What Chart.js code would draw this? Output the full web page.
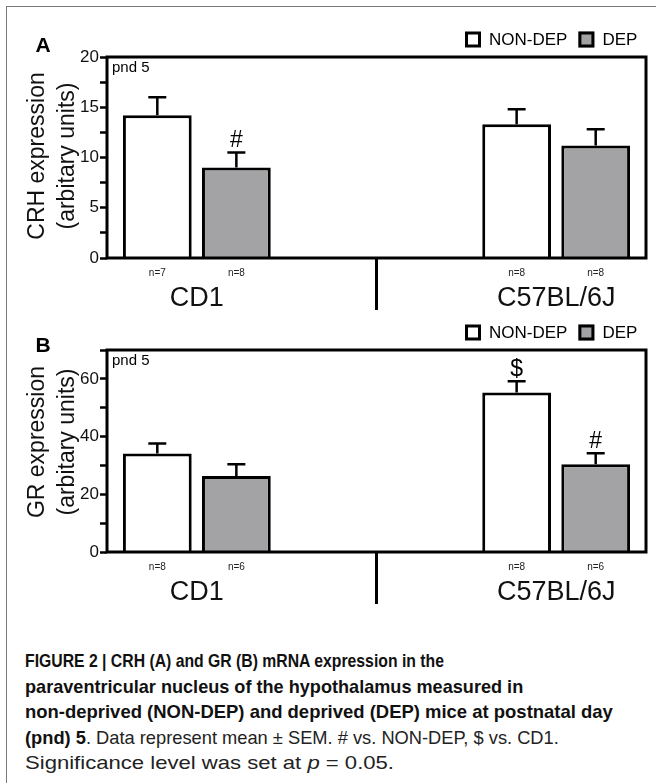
<!DOCTYPE html>
<html>
<head>
<meta charset="utf-8">
<script src="https://cdn.jsdelivr.net/npm/chart.js@4.4.1/dist/chart.umd.min.js"></script>
<style>
  html, body { margin: 0; padding: 0; background: #fff; }
  body { width: 656px; height: 783px; position: relative; overflow: hidden; font-family: 'Liberation Sans', Arial, sans-serif; }
  #frame { position: absolute; left: 6px; top: 6px; width: 700px; height: 900px; border: 1px solid #7a7a7a; }
  #panelA { position: absolute; left: 0; top: 0; }
  #panelB { position: absolute; left: 0; top: 312px; }
  #caption {
    position: absolute; left: 25px; top: 648px; width: 630px;
    font-family: 'Liberation Sans', Arial, sans-serif;
    font-size: 18.5px; line-height: 25.5px; color: #222; white-space: nowrap;
  }
  #caption .line { display: block; height: 25.5px; }
  #caption .line span { display: inline-block; transform-origin: left center; }
  #caption b { color: #111; }
</style>
</head>
<body>
<div id="frame"></div>
<canvas id="panelA" width="656" height="312"></canvas>
<canvas id="panelB" width="656" height="300"></canvas>
<div id="caption">
  <div class="line"><span><b>FIGURE 2 | CRH (A) and GR (B) mRNA expression in the</b></span></div>
  <div class="line"><span><b>paraventricular nucleus of the hypothalamus measured in</b></span></div>
  <div class="line"><span><b>non-deprived (NON-DEP) and deprived (DEP) mice at postnatal day</b></span></div>
  <div class="line"><span><b>(pnd) 5</b>. Data represent mean ± SEM. # vs. NON-DEP, $ vs. CD1.</span></div>
  <div class="line"><span>Significance level was set at <i>p</i> = 0.05.</span></div>
</div>

<script>
// Groups on the x axis (middle slot is the empty gap with the divider)
const categories = ['CD1', '', 'C57BL/6J'];
const seriesLabels = ['NON-DEP', 'DEP'];
const seriesFills = ['#ffffff', '#a3a3a6'];

// Panel A - CRH expression
const crhNonDep = [14.2, null, 13.3];
const crhDep = [9.0, null, 11.2];
const crhNonDepSem = [1.8, null, 1.5];
const crhDepSem = [1.5, null, 1.6];
const crhNonDepN = ['n=7', '', 'n=8'];
const crhDepN = ['n=8', '', 'n=8'];
const crhNonDepMarks = ['', '', ''];
const crhDepMarks = ['#', '', ''];
const crhTickValues = [0, 2.5, 5, 7.5, 10, 12.5, 15, 17.5, 20];
const crhTickLabels = [0, 5, 10, 15, 20];

// Panel B - GR expression
const grNonDep = [34.1, null, 55.3];
const grDep = [26.3, null, 30.4];
const grNonDepSem = [3.5, null, 3.9];
const grDepSem = [4.1, null, 3.8];
const grNonDepN = ['n=8', '', 'n=8'];
const grDepN = ['n=6', '', 'n=6'];
const grNonDepMarks = ['', '', '$'];
const grDepMarks = ['', '', '#'];
const grTickValues = [0, 10, 20, 30, 40, 50, 60, 70];
const grTickLabels = [0, 20, 40, 60];

// caption line widths in the original figure (condensed face)
const captionWidths = [419, 498, 588, 534, 369];

const FONT = "'Liberation Sans', Arial, sans-serif";

// Error bars, significance marks, n= labels, frame, divider, legend
const panelDeco = {
    id: 'panelDeco',
    afterDatasetsDraw(chart, args, opts) {
        const ctx = chart.ctx;
        const yScale = chart.scales.y;
        const area = chart.chartArea;
        ctx.save();
        opts.sem.forEach((semList, i) => {
            const meta = chart.getDatasetMeta(i);
            const values = chart.data.datasets[i].data;
            meta.data.forEach((bar, j) => {
                if (values[j] == null) return;
                const top = yScale.getPixelForValue(values[j] + semList[j]);
                ctx.strokeStyle = '#000';
                ctx.lineWidth = 2.5;
                ctx.beginPath();
                ctx.moveTo(bar.x, bar.y);
                ctx.lineTo(bar.x, top);
                ctx.moveTo(bar.x - 9, top);
                ctx.lineTo(bar.x + 9, top);
                ctx.stroke();

                ctx.fillStyle = '#000';
                if (opts.marks[i][j]) {
                    ctx.font = '23px ' + FONT;
                    ctx.textAlign = 'center';
                    ctx.textBaseline = 'alphabetic';
                    ctx.fillText(opts.marks[i][j], bar.x, top - 5);
                }
                ctx.font = '10px ' + FONT;
                ctx.textAlign = 'center';
                ctx.textBaseline = 'middle';
                ctx.fillStyle = '#222';
                ctx.fillText(opts.counts[i][j], bar.x, area.bottom + 15);
            });
        });
        ctx.restore();
    },
    afterDraw(chart, args, opts) {
        const ctx = chart.ctx;
        const area = chart.chartArea;
        ctx.save();
        // plot frame
        ctx.strokeStyle = '#000';
        ctx.lineWidth = 3;
        ctx.strokeRect(area.left, area.top, area.right - area.left, area.bottom - area.top);

        // divider under the empty middle slot
        const dx = chart.scales.x.getPixelForValue(1);
        ctx.beginPath();
        ctx.moveTo(dx, area.bottom);
        ctx.lineTo(dx, area.bottom + 52);
        ctx.stroke();

        // y axis title, two lines rotated
        ctx.fillStyle = '#111';
        ctx.font = '23px ' + FONT;
        ctx.textAlign = 'center';
        ctx.textBaseline = 'middle';
        opts.title.forEach((line, k) => {
            ctx.save();
            ctx.translate(38 + k * 30, opts.titleY);
            ctx.rotate(-Math.PI / 2);
            ctx.fillText(line, 0, 0);
            ctx.restore();
        });

        // panel letter
        ctx.fillStyle = '#000';
        ctx.font = 'bold 21px ' + FONT;
        ctx.fillText(opts.letter, 43, opts.letterY);

        // pnd label
        ctx.font = '15px ' + FONT;
        ctx.textAlign = 'left';
        ctx.fillText('pnd 5', area.left + 5, area.top + 11);

        // legend
        let lx = 465;
        const ly = area.top - 17.5;
        ctx.font = '17px ' + FONT;
        seriesLabels.forEach((label, i) => {
            ctx.fillStyle = seriesFills[i];
            ctx.fillRect(lx, ly - 8, 16, 16);
            ctx.lineWidth = 3;
            ctx.strokeRect(lx + 1.5, ly - 6.5, 13, 13);
            ctx.fillStyle = '#000';
            ctx.textAlign = 'left';
            ctx.fillText(label, lx + 24, ly + 1);
            lx += 24 + ctx.measureText(label).width + 11;
        });
        ctx.restore();
    }
};

function makePanel(canvasId, opts) {
    return new Chart(document.getElementById(canvasId), {
        type: 'bar',
        data: {
            labels: categories,
            datasets: [
                {
                    label: seriesLabels[0],
                    data: opts.nonDep,
                    backgroundColor: seriesFills[0],
                    borderColor: '#000',
                    borderWidth: 3
                },
                {
                    label: seriesLabels[1],
                    data: opts.dep,
                    backgroundColor: seriesFills[1],
                    borderColor: '#000',
                    borderWidth: 3
                }
            ]
        },
        options: {
            responsive: false,
            animation: false,
            categoryPercentage: 0.88,
            barPercentage: 0.87,
            layout: { padding: { top: opts.padTop, right: 10, left: 0, bottom: 0 } },
            plugins: {
                legend: { display: false },
                tooltip: { enabled: false },
                panelDeco: {
                    letter: opts.letter,
                    letterY: opts.letterY,
                    title: opts.title,
                    titleY: opts.titleY,
                    sem: [opts.nonDepSem, opts.depSem],
                    marks: [opts.nonDepMarks, opts.depMarks],
                    counts: [opts.nonDepN, opts.depN]
                }
            },
            scales: {
                x: {
                    grid: { display: false, drawTicks: false },
                    border: { display: false },
                    ticks: {
                        color: '#111',
                        padding: 24,
                        font: { family: FONT, size: 27 }
                    },
                    afterFit: (scale) => { scale.height = opts.xHeight; }
                },
                y: {
                    min: 0,
                    max: opts.max,
                    border: { display: false },
                    grid: {
                        drawOnChartArea: false,
                        drawTicks: true,
                        tickLength: 7,
                        tickWidth: 2.5,
                        color: '#000'
                    },
                    afterBuildTicks: (scale) => {
                        scale.ticks = opts.tickValues.map(v => ({ value: v }));
                    },
                    ticks: {
                        color: '#111',
                        padding: 1,
                        font: { family: FONT, size: 17 },
                        callback: (v) => opts.tickLabels.includes(v) ? String(v) : ''
                    },
                    afterFit: (scale) => { scale.width = 107; }
                }
            }
        },
        plugins: [panelDeco]
    });
}

makePanel('panelA', {
    nonDep: crhNonDep, dep: crhDep,
    nonDepSem: crhNonDepSem, depSem: crhDepSem,
    nonDepN: crhNonDepN, depN: crhDepN,
    nonDepMarks: crhNonDepMarks, depMarks: crhDepMarks,
    tickValues: crhTickValues, tickLabels: crhTickLabels,
    max: 20, title: ['CRH expression', '(arbitary units)'], titleY: 156,
    letter: 'A', letterY: 46, padTop: 57, xHeight: 54
});

makePanel('panelB', {
    nonDep: grNonDep, dep: grDep,
    nonDepSem: grNonDepSem, depSem: grDepSem,
    nonDepN: grNonDepN, depN: grDepN,
    nonDepMarks: grNonDepMarks, depMarks: grDepMarks,
    tickValues: grTickValues, tickLabels: grTickLabels,
    max: 70, title: ['GR expression', '(arbitary units)'], titleY: 130,
    letter: 'B', letterY: 34, padTop: 38, xHeight: 60
});

// squeeze each caption line to the width it has in the figure
document.querySelectorAll('#caption .line span').forEach((span, i) => {
    const natural = span.getBoundingClientRect().width;
    span.style.transform = 'scaleX(' + (captionWidths[i] / natural).toFixed(3) + ')';
});
</script>
</body>
</html>
